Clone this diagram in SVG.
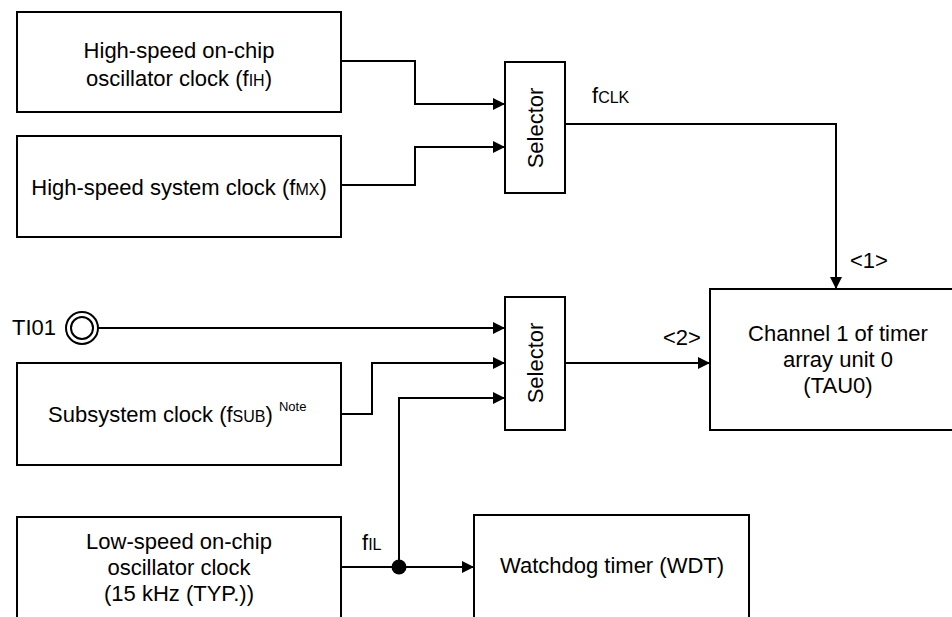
<svg xmlns="http://www.w3.org/2000/svg" width="952" height="617" viewBox="0 0 952 617">
<style>
  .box { fill: #fff; stroke: #000; stroke-width: 2; }
  .t { font-family: "Liberation Sans", Arial, sans-serif; font-size: 22px; fill: #000; }
  .c { text-anchor: middle; }
  .sub { font-size: 16px; }
  .sup { font-size: 13px; }
  .wire { fill: none; stroke: #000; stroke-width: 2; }
</style>
<defs>
  <marker id="arr" markerUnits="userSpaceOnUse" markerWidth="12" markerHeight="12" refX="12" refY="6" orient="auto">
    <path d="M0,0 L12,6 L0,12 z" fill="#000"/>
  </marker>
</defs>
<rect width="952" height="617" fill="#fff"/>

<g id="hoco">
  <rect class="box" x="17" y="12" width="324" height="100"/>
  <text class="t c" x="179" y="58">High-speed on-chip</text>
  <text class="t c" x="179" y="86">oscillator clock (f<tspan class="sub">IH</tspan>)</text>
</g>
<g id="hsclk">
  <rect class="box" x="17" y="136" width="324" height="101"/>
  <text class="t c" x="179" y="195">High-speed system clock (f<tspan class="sub">MX</tspan>)</text>
</g>
<g id="sel1">
  <rect class="box" x="505" y="62" width="60" height="131"/>
  <text class="t c" transform="translate(543,128) rotate(-90)">Selector</text>
</g>
<g id="ti01">
  <text class="t" x="12" y="335">TI01</text>
  <circle cx="82" cy="328" r="16" fill="#fff" stroke="#000" stroke-width="2"/>
  <circle cx="82" cy="328" r="11" fill="none" stroke="#000" stroke-width="2"/>
</g>
<g id="subclk">
  <rect class="box" x="17" y="363" width="324" height="102"/>
  <text class="t" x="48" y="422">Subsystem clock (f<tspan class="sub">SUB</tspan>) <tspan class="sup" dy="-11">Note</tspan></text>
</g>
<g id="sel2">
  <rect class="box" x="505" y="297" width="60" height="133"/>
  <text class="t c" transform="translate(543,363) rotate(-90)">Selector</text>
</g>
<g id="tau0">
  <rect class="box" x="710" y="289" width="262" height="141"/>
  <text class="t c" x="838" y="341">Channel 1 of timer</text>
  <text class="t c" x="838" y="367">array unit 0</text>
  <text class="t c" x="838" y="393">(TAU0)</text>
</g>
<g id="loco">
  <rect class="box" x="17" y="517" width="324" height="120"/>
  <text class="t c" x="179" y="549">Low-speed on-chip</text>
  <text class="t c" x="179" y="575">oscillator clock</text>
  <text class="t c" x="179" y="601">(15 kHz (TYP.))</text>
</g>
<g id="wdt">
  <rect class="box" x="474" y="515" width="275" height="120"/>
  <text class="t c" x="612" y="573">Watchdog timer (WDT)</text>
</g>

<g id="connectors">
  <polyline class="wire" points="341,61 415,61 415,104 505,104" marker-end="url(#arr)"/>
  <polyline class="wire" points="341,185 415,185 415,147 505,147" marker-end="url(#arr)"/>
  <polyline class="wire" points="565,124 836,124 836,289" marker-end="url(#arr)"/>
  <polyline class="wire" points="98,328 505,328" marker-end="url(#arr)"/>
  <polyline class="wire" points="341,414 372,414 372,363 505,363" marker-end="url(#arr)"/>
  <polyline class="wire" points="399,567 399,398 505,398" marker-end="url(#arr)"/>
  <polyline class="wire" points="341,567 474,567" marker-end="url(#arr)"/>
  <polyline class="wire" points="565,363 710,363" marker-end="url(#arr)"/>
  <circle cx="399" cy="567" r="7.5" fill="#000"/>
  <text class="t" x="592" y="103">f<tspan class="sub">CLK</tspan></text>
  <text class="t" x="850" y="268">&lt;1&gt;</text>
  <text class="t" x="663" y="345">&lt;2&gt;</text>
  <text class="t" x="362" y="550">f<tspan class="sub">IL</tspan></text>
</g>
</svg>
